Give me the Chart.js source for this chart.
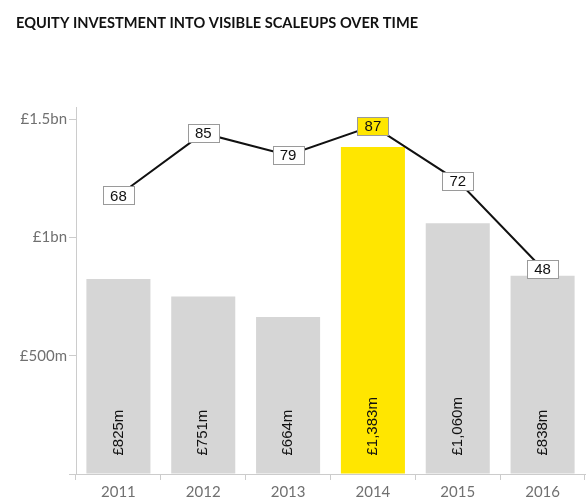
<!DOCTYPE html>
<html>
<head>
<meta charset="utf-8">
<script src="https://cdn.jsdelivr.net/npm/chart.js@4/dist/chart.umd.min.js"></script>
<style>
  html, body { margin: 0; padding: 0; background: #fff; }
  #wrap { width: 587px; height: 504px; }
</style>
</head>
<body>
<div id="wrap"><canvas id="chart"></canvas></div>
<script>
const years = ["2011", "2012", "2013", "2014", "2015", "2016"];
const investment = [825, 751, 664, 1383, 1060, 838];
const investmentLabels = ["£825m", "£751m", "£664m", "£1,383m", "£1,060m", "£838m"];
const scaleups = [68, 85, 79, 87, 72, 48];
const yTicks = [0, 500, 1000, 1500];
const yTickLabels = { 500: "£500m", 1000: "£1bn", 1500: "£1.5bn" };
const highlightYear = "2014";

const GREY = "#d6d6d6";
const YELLOW = "#ffe600";
const AXIS = "#cccccc";

const barLabels = {
  id: "barLabels",
  afterDatasetsDraw(chart) {
    const ctx = chart.ctx;
    const meta = chart.getDatasetMeta(0);
    ctx.save();
    ctx.font = "15px 'Liberation Sans'";
    ctx.fillStyle = "#111";
    ctx.textAlign = "left";
    ctx.textBaseline = "middle";
    meta.data.forEach((bar, i) => {
      ctx.save();
      ctx.translate(bar.x, bar.base - 18);
      ctx.rotate(-Math.PI / 2);
      ctx.fillText(investmentLabels[i], 0, 0);
      ctx.restore();
    });
    ctx.restore();
  },
};

const pointBoxes = {
  id: "pointBoxes",
  afterDraw(chart) {
    const ctx = chart.ctx;
    const meta = chart.getDatasetMeta(1);
    ctx.save();
    ctx.font = "15px 'Liberation Sans'";
    ctx.textAlign = "center";
    ctx.textBaseline = "middle";
    meta.data.forEach((pt, i) => {
      const w = 31, h = 18;
      const x = Math.round(pt.x - w / 2) + 0.5;
      const y = Math.round(pt.y - h / 2) + 0.5;
      ctx.fillStyle = years[i] === highlightYear ? YELLOW : "#fff";
      ctx.fillRect(x, y, w, h);
      ctx.strokeStyle = "#9a9a9a";
      ctx.lineWidth = 1;
      ctx.strokeRect(x, y, w, h);
      ctx.fillStyle = "#111";
      ctx.fillText(String(scaleups[i]), pt.x, pt.y + 1);
    });
    ctx.restore();
  },
};

new Chart(document.getElementById("chart"), {
  type: "bar",
  data: {
    labels: years,
    datasets: [
      {
        type: "bar",
        data: investment,
        backgroundColor: years.map((y) => (y === highlightYear ? YELLOW : GREY)),
        barPercentage: 1,
        categoryPercentage: 0.755,
        yAxisID: "y",
        order: 2,
      },
      {
        type: "line",
        data: scaleups,
        borderColor: "#111",
        borderWidth: 2,
        pointRadius: 0,
        tension: 0,
        yAxisID: "y1",
        order: 1,
      },
    ],
  },
  options: {
    responsive: true,
    maintainAspectRatio: false,
    animation: false,
    layout: { padding: { left: 16, right: 2, top: 0, bottom: 0 } },
    plugins: {
      legend: { display: false },
      tooltip: { enabled: false },
      title: {
        display: true,
        text: "EQUITY INVESTMENT INTO VISIBLE SCALEUPS OVER TIME",
        align: "start",
        color: "#111",
        font: { family: "Lato", size: 14.6, weight: "bold", lineHeight: 1.2 },
        padding: { top: 15, bottom: 75 },
      },
    },
    scales: {
      x: {
        offset: true,
        border: { color: AXIS },
        grid: { offset: true, drawOnChartArea: false, color: AXIS, tickLength: 6 },
        ticks: { color: "#707070", font: { family: "Lato", size: 15 }, padding: 3 },
        afterFit: (s) => { s.height = 30; },
      },
      y: {
        min: 0,
        max: 1550,
        border: { color: AXIS },
        grid: { drawOnChartArea: false, color: AXIS, tickLength: 7 },
        afterBuildTicks: (s) => { s.ticks = yTicks.map((v) => ({ value: v })); },
        ticks: {
          color: "#707070",
          font: { family: "Lato", size: 15 },
          padding: 2,
          callback: (v) => yTickLabels[v] || "",
        },
        afterFit: (s) => { s.width = 60; },
      },
      y1: {
        display: false,
        min: -8,
        max: 92,
      },
    },
  },
  plugins: [barLabels, pointBoxes],
});
</script>
</body>
</html>
